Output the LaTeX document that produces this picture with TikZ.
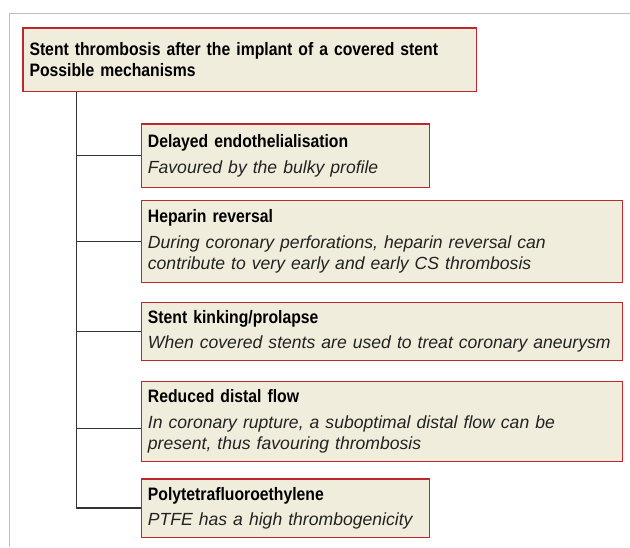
\documentclass[tikz,border=0pt]{standalone}
\usepackage{fontspec}
\setmainfont{Liberation Sans}
\newfontfamily\headfont[FakeStretch=0.875]{Liberation Sans}
\usetikzlibrary{calc}
\definecolor{boxfill}{HTML}{F1EDDC}
\definecolor{boxline}{HTML}{C0272D}
\definecolor{framegray}{HTML}{BDBDBD}
\definecolor{treeline}{HTML}{333333}
\definecolor{bodytext}{HTML}{222222}
\tikzset{mechbox/.style={draw=boxline, fill=boxfill, line width=1.2pt, anchor=north west, align=left, inner xsep=6.6pt, inner ysep=0pt, font=\fontsize{18}{21}\selectfont}}
\def\mechhead#1{{\headfont\bfseries #1}}
\def\mechtext#1{{\color{bodytext}\fontsize{17.6}{21}\selectfont\itshape #1}}

\begin{document}
\begin{tikzpicture}[x=1pt, y=1pt]
			%%%%% START %%%%%
			\useasboundingbox (0, 0) rectangle (630, -547);
			
			\draw[framegray, line width=1pt] (9, -547) -- (9, -13.3) -- (630, -13.3);
			
			\node[mechbox, minimum width=453.3pt, minimum height=63.4pt, text width=440.1pt, font=\fontsize{18}{21.6}\selectfont] (title) at (22.3, -27.3) {\mechhead{Stent thrombosis after the implant of a covered stent}\\\mechhead{Possible mechanisms}};
			
			\node[mechbox, minimum width=288.3pt, minimum height=63.4pt, text width=275.1pt] (delay) at (140.7, -123.3) {\mechhead{Delayed endothelialisation}\\[4.5pt]\mechtext{Favoured by the bulky profile}};
			\node[mechbox, minimum width=481.3pt, minimum height=81.7pt, text width=468.1pt] (heparin) at (140.7, -200) {\mechhead{Heparin reversal}\\[4.5pt]\mechtext{During coronary perforations, heparin reversal can}\\\mechtext{contribute to very early and early CS thrombosis}};
			\node[mechbox, minimum width=481.3pt, minimum height=57.5pt, text width=468.1pt] (kink) at (140.7, -302) {\mechhead{Stent kinking/prolapse}\\[4.5pt]\mechtext{\mbox{When covered stents are used to treat coronary aneurysm}}};
			\node[mechbox, minimum width=481.3pt, minimum height=80pt, text width=468.1pt] (flow) at (140.7, -380.7) {\mechhead{Reduced distal flow}\\[4.5pt]\mechtext{In coronary rupture, a suboptimal distal flow can be}\\\mechtext{present, thus favouring thrombosis}};
			\node[mechbox, minimum width=288pt, minimum height=58.4pt, text width=274.8pt] (ptfe) at (140.7, -478.3) {\mechhead{Polytetrafluoroethylene}\\[4.5pt]\mechtext{PTFE has a high thrombogenicity}};
			
			% tree
			\coordinate (trunktop) at ($(title.south west)+(54, 0)$);
			\coordinate (flowjoin) at ([yshift=-7pt]flow.west);
			\draw[treeline, line width=1.3pt] (trunktop) |- (ptfe.west);
			\draw[treeline, line width=1.3pt] (trunktop |- delay.west) -- (delay.west);
			\draw[treeline, line width=1.3pt] (trunktop |- heparin.west) -- (heparin.west);
			\draw[treeline, line width=1.3pt] (trunktop |- kink.west) -- (kink.west);
			\draw[treeline, line width=1.3pt] (trunktop |- flowjoin) -- (flowjoin);
			%%%%% END %%%%%
\end{tikzpicture}
\end{document}
